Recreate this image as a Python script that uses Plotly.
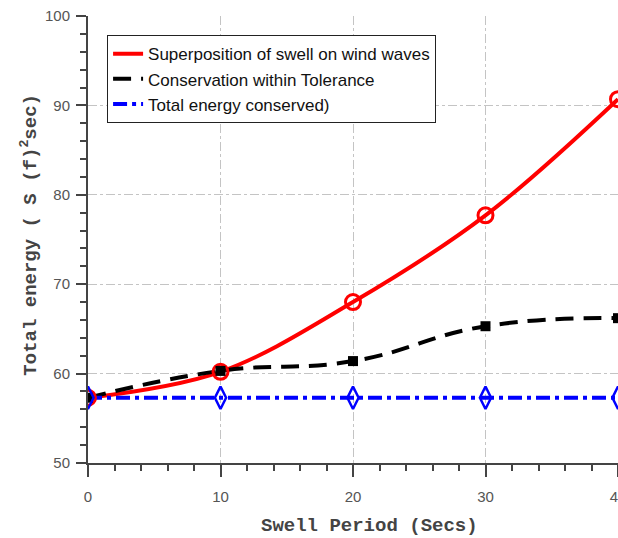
import plotly.graph_objects as go

# ---- data ----
periods = [0, 10, 20, 30, 40]
superposition = [57.3, 60.2, 68.0, 77.7, 90.7]
tolerance = [57.3, 60.3, 61.4, 65.3, 66.2]
conserved = [57.3, 57.3, 57.3, 57.3, 57.3]

names = ["Superposition of swell on wind waves",
         "Conservation within Tolerance",
         "Total energy conserved)"]
x_ticks = [0, 10, 20, 30, 40]
y_ticks = [50, 60, 70, 80, 90, 100]

fig = go.Figure()

# lines (legend entries)
fig.add_trace(go.Scatter(x=periods, y=superposition, mode="lines", name=names[0],
                         line=dict(color="#ff0000", width=4, shape="spline", smoothing=1.0)))
fig.add_trace(go.Scatter(x=periods, y=tolerance, mode="lines", name=names[1],
                         line=dict(color="#000000", width=4, shape="spline", smoothing=1.3,
                                   dash="18px,10px")))
fig.add_trace(go.Scatter(x=periods, y=conserved, mode="lines", name=names[2],
                         line=dict(color="#0000ff", width=4, dash="14px,5px,4px,5px")))

# markers (no legend)
fig.add_trace(go.Scatter(x=periods, y=superposition, mode="markers", showlegend=False,
                         marker=dict(symbol="circle-open", size=15, color="#ff0000",
                                     line=dict(width=3, color="#ff0000"))))
fig.add_trace(go.Scatter(x=periods, y=tolerance, mode="markers", showlegend=False,
                         marker=dict(symbol="square", size=10, color="#000000")))
fig.add_trace(go.Scatter(x=periods, y=conserved, mode="markers", showlegend=False,
                         marker=dict(symbol="diamond-tall-open", size=16, color="#0000ff",
                                     line=dict(width=2.5, color="#0000ff"))))

axis_common = dict(
    showline=True, linecolor="#444444", linewidth=2,
    ticks="outside", tickcolor="#444444", tickwidth=1.5,
    showgrid=True, gridcolor="#c4c4c4", gridwidth=1, griddash="dashdot",
    zeroline=False, automargin=False, ticklabeloverflow="allow",
    tickfont=dict(family="Arial, Liberation Sans", size=15, color="#555555"),
)

fig.update_xaxes(range=[0, 40], tickvals=x_ticks, ticklen=12, ticklabelstandoff=7,
                 minor=dict(dtick=2, ticks="outside", ticklen=6, tickcolor="#444444",
                            tickwidth=1.5, showgrid=False),
                 **axis_common)
fig.update_yaxes(range=[50, 100], tickvals=y_ticks, ticklen=10, ticklabelstandoff=3,
                 minor=dict(dtick=2, ticks="outside", ticklen=6, tickcolor="#444444",
                            tickwidth=1.5, showgrid=False),
                 **axis_common)

title_font = dict(family="Liberation Mono, Courier New, monospace", size=19, color="#444444")
fig.add_annotation(text="<b>Swell Period (Secs)</b>", xref="paper", yref="paper",
                   x=0.532, y=-0.14, xanchor="center", yanchor="middle",
                   showarrow=False, font=title_font)
fig.add_annotation(text="<b>Total energy ( S (f)<sup>2</sup>sec)</b>", xref="paper", yref="paper",
                   x=-0.112, y=0.51, xanchor="center", yanchor="middle", textangle=-90,
                   showarrow=False, font=title_font)

fig.update_layout(
    width=618, height=538,
    margin=dict(l=88, r=0, t=16, b=75),
    plot_bgcolor="white", paper_bgcolor="white",
    legend=dict(x=0.036, y=0.957, xanchor="left", yanchor="top",
                bordercolor="#222222", borderwidth=1, bgcolor="white",
                font=dict(family="Liberation Sans Narrow, Arial Narrow, Arial", size=17,
                          color="#111111")),
)

# remove the default page margin so the 618x538 figure fills the window exactly
fig.write_html("out.html",
               config={"displayModeBar": False},
               post_script="document.body.style.margin='0';document.body.style.overflow='hidden';")
